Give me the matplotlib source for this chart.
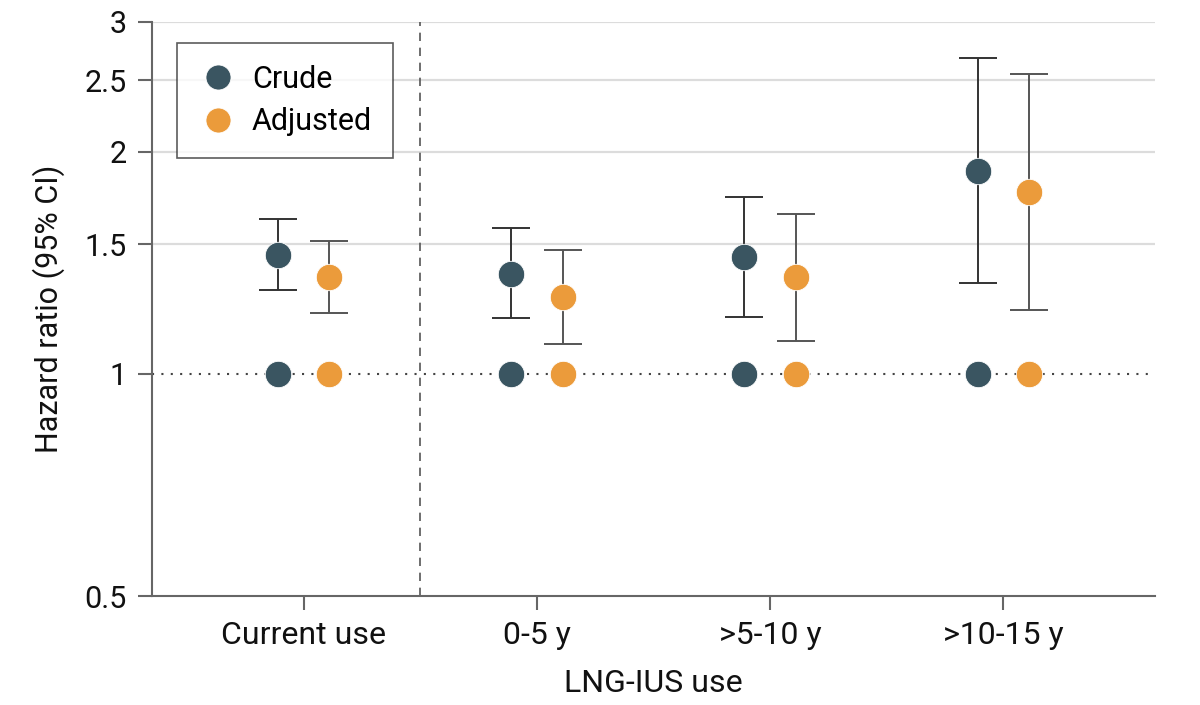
import numpy as np
import matplotlib
matplotlib.use("Agg")
import matplotlib.pyplot as plt
from matplotlib.ticker import FixedLocator, NullLocator

plt.rcParams['font.family'] = ['Roboto', 'DejaVu Sans']

categories = ['Current use', '0-5 y', '>5-10 y', '>10-15 y']

crude_hr = [1.45, 1.366, 1.44, 1.885]
crude_lo = [1.30, 1.19, 1.195, 1.33]
crude_hi = [1.62, 1.578, 1.74, 2.68]

adj_hr = [1.354, 1.27, 1.354, 1.765]
adj_lo = [1.21, 1.098, 1.107, 1.221]
adj_hi = [1.515, 1.473, 1.648, 2.55]

ref_hr = [1.0, 1.0, 1.0, 1.0]

crude_col = '#3a5561'
adj_col = '#eb9b3b'

fig = plt.figure(figsize=(12, 7.05), dpi=100)
ax = fig.add_axes([0.1267, 0.1546, 0.8358, 0.8142])

x = np.arange(len(categories))
off = 0.11

ax.set_yscale('log')
ax.set_ylim(0.5, 3)
ax.set_xlim(-0.65, 3.65)

for yv in [1.5, 2, 2.5, 3]:
    ax.axhline(yv, color='#dcdcdc', lw=1.6, zorder=0)
ax.axhline(1, color='#444444', lw=1.5, ls=(0, (1, 3.5)), zorder=1)
ax.axvline(0.5, color='#555555', lw=1.2, ls=(0, (5, 4)), zorder=1)

ce = [np.array(crude_hr) - np.array(crude_lo), np.array(crude_hi) - np.array(crude_hr)]
ae = [np.array(adj_hr) - np.array(adj_lo), np.array(adj_hi) - np.array(adj_hr)]
ax.errorbar(x - off, crude_hr, yerr=ce, fmt='none', ecolor='#333333', elinewidth=1.4,
            capsize=14, capthick=1.4, zorder=2)
ax.errorbar(x + off, adj_hr, yerr=ae, fmt='none', ecolor='#555555', elinewidth=1.4,
            capsize=14, capthick=1.4, zorder=2)

ax.plot(x - off, crude_hr, 'o', color=crude_col, ms=19, mec='white', mew=0.6, zorder=3, label='Crude')
ax.plot(x + off, adj_hr, 'o', color=adj_col, ms=19, mec='white', mew=0.6, zorder=3, label='Adjusted')
ax.plot(x - off, ref_hr, 'o', color=crude_col, ms=19, mec='white', mew=0.6, zorder=3)
ax.plot(x + off, ref_hr, 'o', color=adj_col, ms=19, mec='white', mew=0.6, zorder=3)

ax.yaxis.set_major_locator(FixedLocator([0.5, 1, 1.5, 2, 2.5, 3]))
ax.yaxis.set_minor_locator(NullLocator())
ax.set_yticklabels(['0.5', '1', '1.5', '2', '2.5', '3'])
ax.set_xticks(x)
ax.set_xticklabels(categories)

for s in ['top', 'right']:
    ax.spines[s].set_visible(False)
for s in ['left', 'bottom']:
    ax.spines[s].set_color('#666666')
    ax.spines[s].set_linewidth(1.5)
ax.tick_params(axis='both', colors='#666666', width=1.5, length=10, labelsize=22,
               labelcolor='#111111')
ax.tick_params(axis='x', labelsize=23)
ax.tick_params(axis='y', pad=8)
ax.tick_params(axis='x', pad=8)

ax.set_xlabel('LNG-IUS use', fontsize=23, labelpad=14, color='#111111')
ax.set_ylabel('Hazard ratio (95% CI)', fontsize=22, labelpad=14, color='#111111')

leg = ax.legend(loc='upper left', bbox_to_anchor=(0.025, 0.963), fontsize=22,
                frameon=True, fancybox=False, edgecolor='#333333', markerscale=0.95,
                handletextpad=0.45, borderpad=0.7, labelspacing=0.45, handlelength=1.3,
                borderaxespad=0)
leg.get_frame().set_linewidth(1.2)

fig.savefig('out.png', dpi=100, facecolor='white')
